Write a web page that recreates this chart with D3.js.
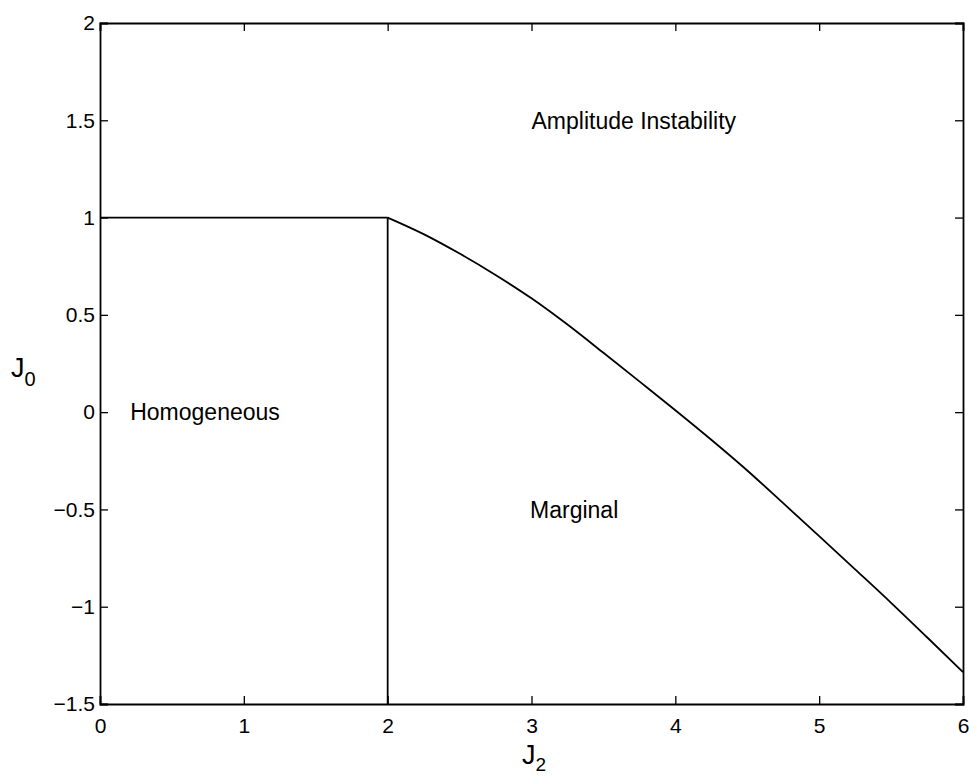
<!DOCTYPE html>
<html>
<head>
<meta charset="utf-8">
<script src="https://cdn.jsdelivr.net/npm/d3@7"></script>
<style>
  html, body { margin: 0; padding: 0; background: #fff; }
  svg { display: block; font-family: "Liberation Sans", Arial, Helvetica, sans-serif; }
</style>
</head>
<body>
<svg id="chart" width="969" height="777"></svg>
<script>
// Phase boundaries in the (J2, J0) plane
const flatJ2 = [0, 2];
const flatJ0 = [1, 1];
const wallJ2 = [2, 2];
const wallJ0 = [1, -1.5];
const curveJ2 = [2, 2.25, 2.5, 2.75, 3, 3.25, 3.5, 3.75, 4, 4.25, 4.5, 4.75, 5, 5.25, 5.5, 5.75, 6];
const curveJ0 = [1, 0.915, 0.815, 0.705, 0.585, 0.45, 0.305, 0.158, 0.01, -0.142, -0.300, -0.468, -0.637, -0.808, -0.980, -1.157, -1.336];

const xTicks = [0, 1, 2, 3, 4, 5, 6];
const yTicks = [-1.5, -1, -0.5, 0, 0.5, 1, 1.5, 2];

// Region names and where they sit (data coordinates)
const regionNames = ["Amplitude Instability", "Homogeneous", "Marginal"];
const regionJ2 = [3.0, 0.21, 2.99];
const regionJ0 = [1.5, 0, -0.5];

const margin = { left: 100, right: 6, top: 23, bottom: 73 };
const W = 969, H = 777;
const svg = d3.select("#chart");

const x = d3.scaleLinear().domain([0, 6]).range([margin.left, W - margin.right]);
const y = d3.scaleLinear().domain([-1.5, 2]).range([H - margin.bottom, margin.top]);

const tickLen = 8;
const fmt = d => (d < 0 ? "\u2212" + Math.abs(d) : String(d));

// Bottom axis with inward ticks
const gx = svg.append("g").attr("transform", `translate(0,${y(-1.5)})`)
  .call(d3.axisBottom(x).tickValues(xTicks).tickSize(-tickLen).tickPadding(tickLen + 6).tickFormat(fmt));
// Left axis with inward ticks
const gy = svg.append("g").attr("transform", `translate(${x(0)},0)`)
  .call(d3.axisLeft(y).tickValues(yTicks).tickSize(-tickLen).tickPadding(5).tickFormat(fmt));
// Top and right axes: ticks only
const gt = svg.append("g").attr("transform", `translate(0,${y(2)})`)
  .call(d3.axisTop(x).tickValues(xTicks).tickSize(-tickLen).tickFormat(""));
const gr = svg.append("g").attr("transform", `translate(${x(6)},0)`)
  .call(d3.axisRight(y).tickValues(yTicks).tickSize(-tickLen).tickFormat(""));

[gx, gy, gt, gr].forEach(g => {
  g.selectAll(".domain").attr("stroke", "#000").attr("stroke-width", 1.8);
  g.selectAll(".tick line").attr("stroke", "#000").attr("stroke-width", 1.3);
  g.selectAll(".tick text").attr("fill", "#000").attr("font-size", 21)
    .attr("font-family", "'Liberation Sans', Arial, sans-serif");
});

// Boundary lines
const seg = (xs, ys) => xs.map((v, i) => [v, ys[i]]);
const straight = d3.line().x(d => x(d[0])).y(d => y(d[1]));
const smooth = d3.line().x(d => x(d[0])).y(d => y(d[1])).curve(d3.curveMonotoneX);
[[seg(flatJ2, flatJ0), straight], [seg(wallJ2, wallJ0), straight], [seg(curveJ2, curveJ0), smooth]]
  .forEach(([pts, gen]) => {
    svg.append("path").datum(pts).attr("d", gen)
      .attr("fill", "none").attr("stroke", "#000").attr("stroke-width", 1.8)
      .attr("stroke-linejoin", "round");
  });

// Region labels
regionNames.forEach((t, i) => {
  svg.append("text")
    .attr("x", x(regionJ2[i])).attr("y", y(regionJ0[i]))
    .attr("dy", "0.36em")
    .attr("font-size", 23).attr("fill", "#000")
    .text(t);
});

// Axis titles with subscripts
const xt = svg.append("text").attr("x", 522).attr("y", 764)
  .attr("font-size", 27).attr("fill", "#000");
xt.append("tspan").text("J");
xt.append("tspan").attr("font-size", 19).attr("dy", 7).text("2");

const yt = svg.append("text").attr("x", 11).attr("y", 377)
  .attr("font-size", 27).attr("fill", "#000");
yt.append("tspan").text("J");
yt.append("tspan").attr("font-size", 20).attr("dy", 9).text("0");
</script>
</body>
</html>
